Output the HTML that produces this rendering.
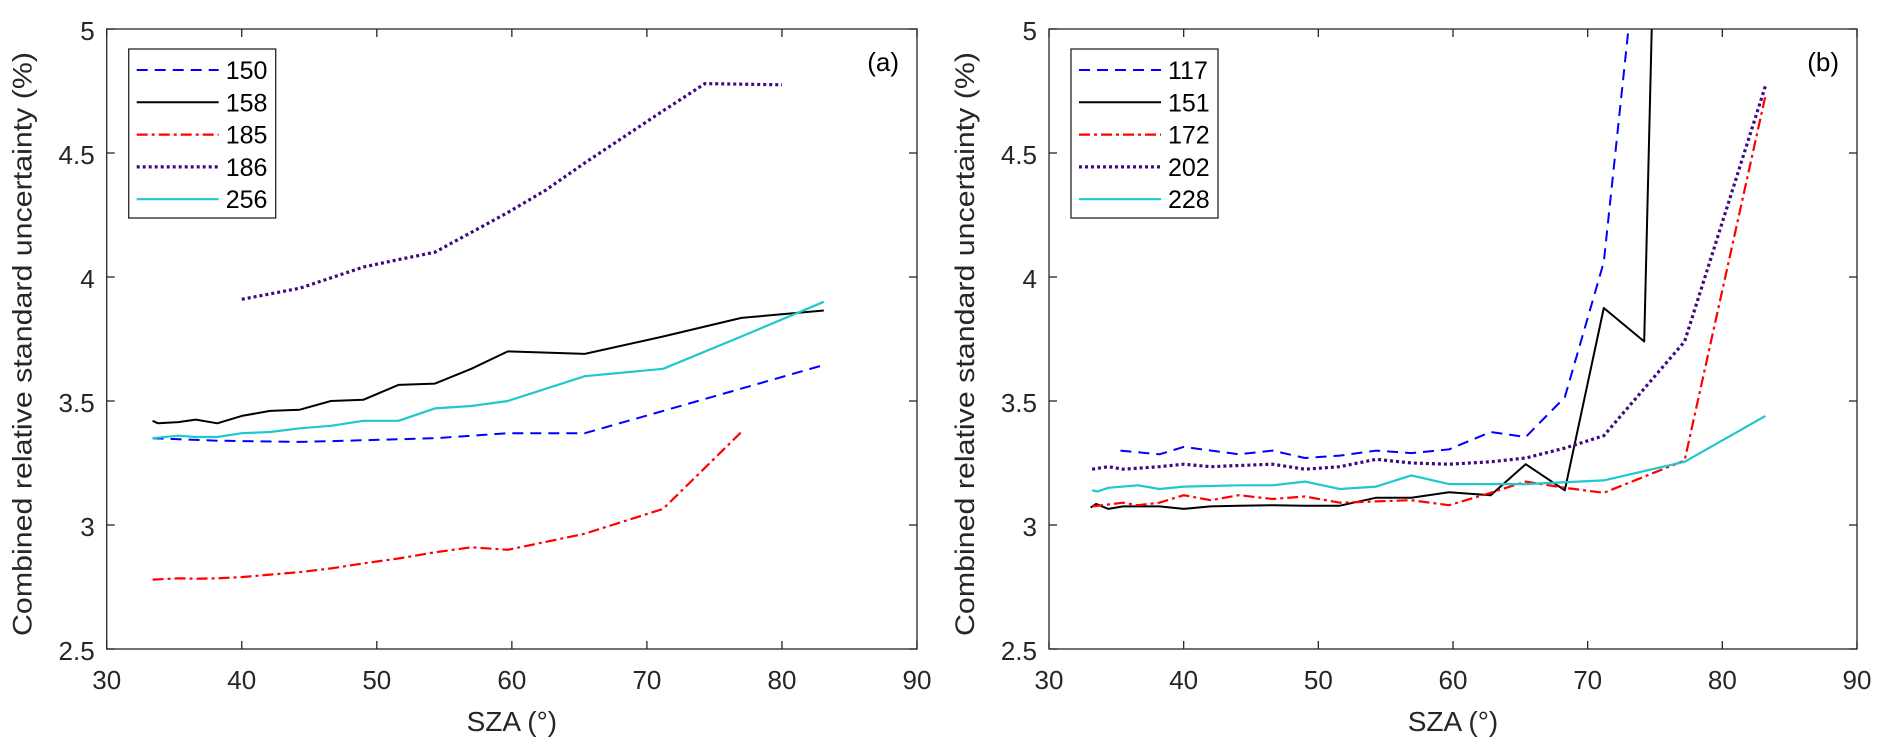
<!DOCTYPE html>
<html><head><meta charset="utf-8">
<style>
html,body{margin:0;padding:0;background:#fff;}
svg{display:block;font-family:"Liberation Sans",Arial,sans-serif;}
</style></head>
<body>
<svg id="chart" width="1892" height="755" viewBox="0 0 1892 755"></svg>
<script>
const xTicks=[30,40,50,60,70,80,90];
const yTicks=[2.5,3,3.5,4,4.5,5];
const yTickLabels=["2.5","3","3.5","4","4.5","5"];
const namesA=["150","158","185","186","256"];
const namesB=["117","151","172","202","228"];
// panel a
const a150x=[33.4,38.2,44.3,46.5,54.3,59.7,65.4,71.2,77,83.1];
const a150y=[3.35,3.34,3.335,3.338,3.35,3.37,3.37,3.46,3.55,3.645];
const a158x=[33.4,33.8,35.3,36.6,38.2,40,42.1,44.3,46.6,49,51.6,54.3,57,59.7,65.4,71.2,77,83.1];
const a158y=[3.42,3.41,3.415,3.425,3.41,3.44,3.46,3.465,3.50,3.505,3.565,3.57,3.63,3.70,3.69,3.76,3.835,3.865];
const a185x=[33.4,35.3,36.6,38.2,40,42.1,44.3,46.6,49,51.6,54.3,57,59.7,65.4,71.2,77];
const a185y=[2.78,2.785,2.783,2.785,2.79,2.80,2.81,2.825,2.845,2.865,2.89,2.91,2.90,2.965,3.065,3.375];
const a186x=[40,44.3,49,51.6,54.3,57,59.7,62.5,65.4,71.2,74.3,80];
const a186y=[3.91,3.955,4.04,4.07,4.10,4.18,4.26,4.35,4.46,4.67,4.78,4.775];
const a256x=[33.4,35.3,36.6,38.2,40,42.1,44.3,46.6,49,51.6,54.3,57,59.7,65.4,71.2,77,83.1];
const a256y=[3.35,3.36,3.355,3.355,3.37,3.375,3.39,3.40,3.42,3.42,3.47,3.48,3.50,3.60,3.63,3.76,3.90];
// panel b
const b117x=[35.3,38.2,40,44.1,46.6,49,51.6,54.3,56.9,59.7,62.8,65.4,68.3,71.2,74.2];
const b117y=[3.30,3.285,3.315,3.285,3.30,3.27,3.28,3.30,3.29,3.305,3.375,3.355,3.515,4.06,5.6];
const b151x=[33.1,33.5,34.4,35.5,38.2,40,42,44.1,46.6,49,51.6,54.3,56.9,59.7,62.8,65.4,68.3,71.2,74.2,75.2];
const b151y=[3.07,3.085,3.065,3.075,3.075,3.065,3.075,3.078,3.08,3.078,3.078,3.11,3.11,3.132,3.12,3.245,3.14,3.875,3.74,6.0];
const b172x=[33.2,35.5,36.6,38.2,40,42,44.1,46.6,49,51.6,54.3,56.9,59.7,62.8,65.4,68.3,71.2,77.2,83.2];
const b172y=[3.075,3.09,3.08,3.09,3.12,3.10,3.12,3.105,3.115,3.09,3.095,3.10,3.08,3.13,3.175,3.15,3.13,3.26,4.73];
const b202x=[33.2,34.4,35.5,38.2,40,42,44.1,46.6,49,51.6,54.3,56.9,59.7,62.8,65.4,68.3,71.2,77.2,83.2];
const b202y=[3.225,3.235,3.225,3.235,3.245,3.235,3.24,3.245,3.225,3.235,3.265,3.25,3.245,3.255,3.27,3.31,3.36,3.74,4.77];
const b228x=[33.2,33.6,34.4,36.6,38.2,40,44.1,46.6,49,51.6,54.3,56.9,59.7,65.4,71.2,77.2,83.2];
const b228y=[3.14,3.135,3.15,3.16,3.145,3.155,3.16,3.16,3.175,3.145,3.155,3.20,3.165,3.165,3.18,3.255,3.44];

const NS="http://www.w3.org/2000/svg";
const svg=document.getElementById('chart');
function mk(tag,attrs,parent){const e=document.createElementNS(NS,tag);for(const k in attrs)e.setAttribute(k,attrs[k]);(parent||svg).appendChild(e);return e;}
const styles=[
 {stroke:"#0000ff",dash:"11,7",w:2},
 {stroke:"#000000",dash:"",w:2},
 {stroke:"#ff0000",dash:"11,4,3,4",w:2.2},
 {stroke:"#3d0a80",dash:"3,3",w:3.2},
 {stroke:"#1ec8cc",dash:"",w:2.2}
];
function panel(id,L,R,T,B,names,xs,ys,tag){
  const g=mk('g',{});
  
  
  const sx=v=>L+(v-30)/60*(R-L);
  const sy=v=>B-(v-2.5)/2.5*(B-T);
  const cp=mk('clipPath',{id:'clip'+id},g);
  mk('rect',{x:L,y:T,width:R-L,height:B-T},cp);
  for(let i=0;i<xs.length;i++){
    const pts=xs[i].map((x,j)=>sx(x).toFixed(1)+','+sy(ys[i][j]).toFixed(1)).join(' ');
    const pl=mk('polyline',{points:pts,fill:'none',stroke:styles[i].stroke,'stroke-width':styles[i].w,'stroke-dasharray':styles[i].dash,'clip-path':'url(#clip'+id+')','stroke-linejoin':'round'},g);
    
    
  }
  const box=mk('rect',{x:L,y:T,width:R-L,height:B-T,fill:'none',stroke:'#262626','stroke-width':1.3},g);
  
  
  xTicks.forEach(v=>{
    const x=sx(v);
    mk('line',{x1:x,x2:x,y1:B,y2:B-8,stroke:'#262626','stroke-width':1.3},g);
    mk('line',{x1:x,x2:x,y1:T,y2:T+8,stroke:'#262626','stroke-width':1.3},g);
    const t=mk('text',{x:x,y:B+40,'text-anchor':'middle','font-size':26,fill:'#262626'},g);
    t.textContent=v;
    
    
  });
  yTicks.forEach((v,k)=>{
    const y=sy(v);
    mk('line',{x1:L,x2:L+8,y1:y,y2:y,stroke:'#262626','stroke-width':1.3},g);
    mk('line',{x1:R,x2:R-8,y1:y,y2:y,stroke:'#262626','stroke-width':1.3},g);
    const t=mk('text',{x:L-12,y:y+11,'text-anchor':'end','font-size':26,fill:'#262626'},g);
    t.textContent=yTickLabels[k];
    
    
  });
  const xl=mk('text',{x:(L+R)/2,y:731,'text-anchor':'middle','font-size':28,fill:'#262626'},g);
  xl.textContent='SZA (°)';
  
  
  const yl=mk('text',{x:0,y:0,'text-anchor':'middle','font-size':27,fill:'#262626',transform:'translate('+(L-75)+','+((T+B)/2+5)+') rotate(-90)',textLength:584,lengthAdjust:'spacingAndGlyphs'},g);
  yl.textContent='Combined relative standard uncertainty (%)';
  
  
  const pt=mk('text',{x:R-18,y:T+42,'text-anchor':'end','font-size':26,fill:'#000'},g);
  pt.textContent=tag;
  
  
  const lg=mk('g',{},g);
  
  
  const lx=L+22, ly=T+20;
  mk('rect',{x:lx,y:ly,width:147,height:169,fill:'#fff',stroke:'#262626','stroke-width':1.3},lg);
  names.forEach((n,i)=>{
    const y=ly+21+i*32.3;
    const e=mk('g',{},lg);
    
    
    mk('line',{x1:lx+8,x2:lx+90,y1:y,y2:y,stroke:styles[i].stroke,'stroke-width':styles[i].w,'stroke-dasharray':styles[i].dash},e);
    const t=mk('text',{x:lx+97,y:y+9,'font-size':25,fill:'#000'},e);
    t.textContent=n;
  });
}
panel('a',106.7,917,29,649,namesA,[a150x,a158x,a185x,a186x,a256x],[a150y,a158y,a185y,a186y,a256y],'(a)');
panel('b',1049,1857,29,649,namesB,[b117x,b151x,b172x,b202x,b228x],[b117y,b151y,b172y,b202y,b228y],'(b)');
</script>
</body></html>
